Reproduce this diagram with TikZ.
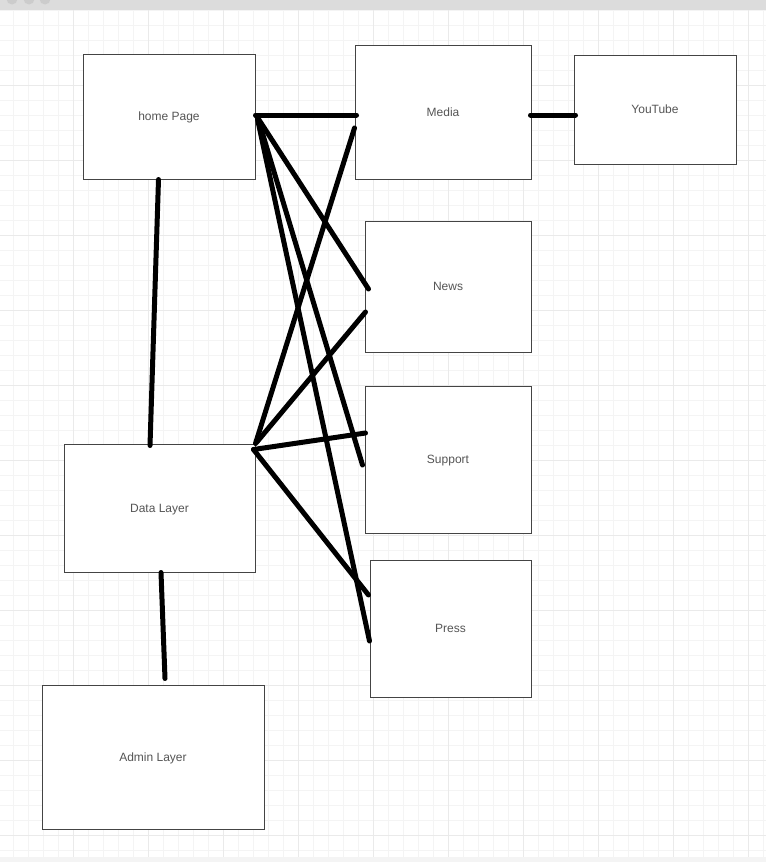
\documentclass[tikz,border=0pt]{standalone}
\usepackage{fontspec}
\setmainfont{Liberation Sans}
\usetikzlibrary{calc}
\definecolor{gridminor}{HTML}{F4F4F4}
\definecolor{gridmajor}{HTML}{EAEAEA}
\definecolor{barcol}{HTML}{DCDCDC}
\definecolor{dotcol}{HTML}{CCCCCC}
\definecolor{labelcol}{HTML}{555555}
\definecolor{edgecol}{HTML}{444444}
\tikzset{
  box/.style={draw=edgecol, line width=1pt, fill=white, inner sep=0pt,
    text height=11pt, text depth=2.5pt,
    font=\fontsize{12}{14}\selectfont, text=labelcol},
  wire/.style={line width=5pt, line cap=round, black},
}

\begin{document}
\begin{tikzpicture}[x=1pt, y=-1pt]
    \useasboundingbox (0,0) rectangle (766,862);
    \fill[white] (0,0) rectangle (766,862);
    \foreach \gx in {13.3,28.3,...,766} \draw[gridminor, line width=0.8pt] (\gx,10) -- (\gx,857);
    \foreach \gy in {10.5,25.5,...,857} \draw[gridminor, line width=0.8pt] (0,\gy) -- (766,\gy);
    \foreach \gx in {73.3,148.3,...,766} \draw[gridmajor, line width=0.8pt] (\gx,10) -- (\gx,857);
    \foreach \gy in {85.5,160.5,...,857} \draw[gridmajor, line width=0.8pt] (0,\gy) -- (766,\gy);
    \fill[barcol] (0,0) rectangle (766,10);
    \foreach \dx in {12,29,45} \fill[dotcol] (\dx,-1) circle (5.5);
    \fill[gridminor] (0,857) rectangle (766,862);

    \node[box, minimum width=172pt, minimum height=125pt] (home) at (169,116.5) {home Page};
    \node[box, minimum width=176pt, minimum height=134pt] (media) at (443,112) {Media};
    \node[box, minimum width=162pt, minimum height=109pt] (youtube) at (655,109.5) {YouTube};
    \node[box, minimum width=166pt, minimum height=131pt] (news) at (448,286.5) {News};
    \node[box, minimum width=166pt, minimum height=147pt] (support) at (448,459.5) {Support};
    \node[box, minimum width=161pt, minimum height=137pt] (press) at (450.5,628.5) {Press};
    \node[box, minimum width=191pt, minimum height=128pt] (data) at (159.5,508) {Data Layer};
    \node[box, minimum width=222pt, minimum height=144pt] (admin) at (153,757) {Admin Layer};

    \draw[wire] ($(home.east)+(0,-1.5)$) -- ($(media.west)+(2,3)$);
    \draw[wire] ($(media.east)+(-1,3)$) -- ($(youtube.west)+(2,5.5)$);
    \draw[wire] ($(home.south)+(-10.5,0)$) -- ($(data.north)+(-9.5,2)$);
    \draw[wire] ($(data.south)+(1.5,0)$) -- ($(admin.north)+(12,-6)$);
    \draw[wire] ($(home.east)+(1,-0.5)$) -- ($(news.west)+(4,2.5)$);
    \draw[wire] ($(home.east)+(2,0.5)$) -- ($(support.west)+(-2,5.5)$);
    \draw[wire] ($(home.east)+(2,2.5)$) -- ($(press.west)+(0,12.5)$);
    \draw[wire] (data.north east) -- ($(media.west)+(0,16)$);
    \draw[wire] ($(data.north east)+(1,-1)$) -- ($(news.west)+(1,25.5)$);
    \draw[wire] ($(data.north east)+(-2,6)$) -- ($(support.west)+(1,-26.5)$);
    \draw[wire] ($(data.north east)+(-2,6)$) -- ($(press.west)+(-1,-33.5)$);
\end{tikzpicture}
\end{document}
